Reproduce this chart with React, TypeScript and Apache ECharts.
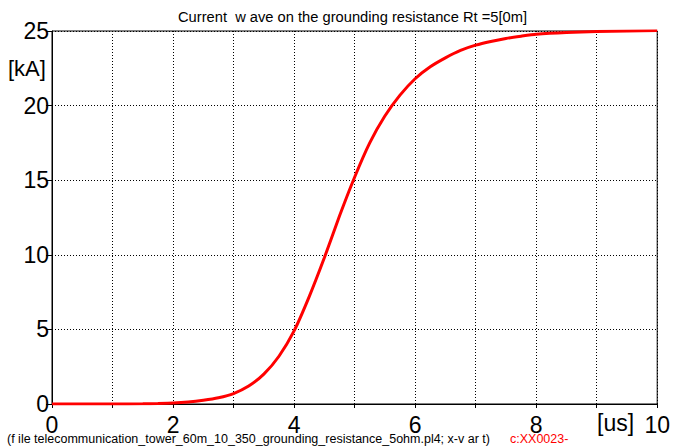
import React, { useEffect, useRef } from "react";
import * as echarts from "echarts";

const titleText = "Current  w ave on the grounding resistance Rt =5[0m]";
const footerText = "(f ile telecommunication_tower_60m_10_350_grounding_resistance_5ohm.pl4; x-v ar t)";
const footerRed = "c:XX0023-";
const yUnit = "[kA]";
const xUnit = "[us]";

const timeUs = [0, 1, 1.5, 1.75, 2, 2.25, 2.5, 2.75, 3, 3.25, 3.5, 3.75, 4, 4.25, 4.5, 4.75, 5, 5.25, 5.5, 5.75, 6, 6.25, 6.5, 6.75, 7, 7.25, 7.5, 7.75, 8, 8.5, 9, 9.5, 10];
const currentKA = [0, 0, 0.01, 0.03, 0.06, 0.13, 0.25, 0.42, 0.7, 1.2, 2.0, 3.2, 4.9, 7.2, 9.8, 12.6, 15.2, 17.5, 19.3, 20.7, 21.8, 22.6, 23.2, 23.7, 24.05, 24.3, 24.5, 24.65, 24.78, 24.9, 24.96, 25.0, 25.03];

export default function App() {
  const ref = useRef<HTMLDivElement>(null);
  useEffect(() => {
    if (!ref.current) return;
    const chart = echarts.init(ref.current, null, { renderer: "svg" });
    const font = "Liberation Sans, Arial, sans-serif";
    chart.setOption({
      animation: false,
      backgroundColor: "#ffffff",
      grid: {
        left: 52,
        right: 14,
        top: 31,
        bottom: 43,
        show: true,
        borderColor: "#000",
        borderWidth: 1,
        backgroundColor: "transparent",
      },
      xAxis: {
        type: "value",
        min: 0,
        max: 10,
        interval: 1,
        axisLine: { show: true, onZero: false, lineStyle: { color: "#000", width: 1 } },
        axisTick: { show: true, length: 4, lineStyle: { color: "#000" } },
        axisLabel: {
          color: "#000",
          fontSize: 23,
          lineHeight: 23,
          fontFamily: font,
          margin: 9,
          formatter: (v: number) => (v % 2 === 0 ? String(v) : ""),
        },
        splitLine: { show: true, lineStyle: { color: "#000", type: [1, 2], width: 1 } },
      },
      yAxis: {
        type: "value",
        min: 0,
        max: 25,
        interval: 5,
        axisLine: { show: true, lineStyle: { color: "#000", width: 1 } },
        axisTick: { show: true, length: 6, lineStyle: { color: "#000" } },
        axisLabel: { color: "#000", fontSize: 23, fontFamily: font, margin: 3 },
        splitLine: { show: true, lineStyle: { color: "#000", type: [1, 2], width: 1 } },
      },
      graphic: [
        {
          type: "text",
          left: 178,
          top: 9,
          style: { text: titleText, fill: "#000", fontSize: 14.7, fontFamily: font },
        },
        {
          type: "text",
          left: 8,
          top: 57,
          style: { text: yUnit, fill: "#000", fontSize: 22, fontFamily: font },
        },
        {
          type: "text",
          left: 597,
          top: 411,
          style: { text: xUnit, fill: "#000", fontSize: 23, fontFamily: font },
        },
        {
          type: "text",
          left: 7,
          top: 432,
          style: { text: footerText, fill: "#000", fontSize: 12.5, fontFamily: font },
        },
        {
          type: "text",
          left: 510,
          top: 432,
          style: { text: footerRed, fill: "#ff0000", fontSize: 12.5, fontFamily: font },
        },
      ],
      series: [
        {
          type: "line",
          data: timeUs.map((t, i) => [t, currentKA[i]]),
          smooth: 0.2,
          showSymbol: false,
          lineStyle: { color: "#ff0000", width: 3 },
          z: 5,
        },
      ],
    });
    return () => chart.dispose();
  }, []);
  return <div ref={ref} style={{ width: 673, height: 447, position: "absolute", left: 0, top: 0 }} />;
}
